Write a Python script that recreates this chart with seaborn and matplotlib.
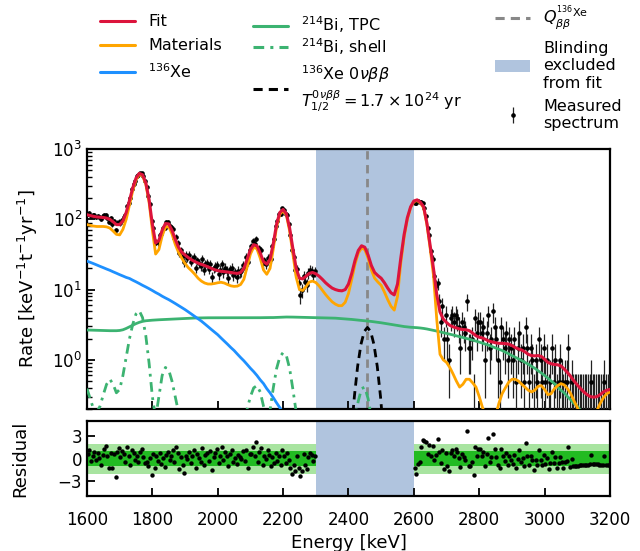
import numpy as np
import pandas as pd
import matplotlib
matplotlib.use("Agg")
import matplotlib.pyplot as plt
import seaborn as sns
from matplotlib.lines import Line2D
from matplotlib.patches import Patch

# ---------------- data ----------------
# model curves on a 10 keV grid, 1600 ... 3200 keV  [keV^-1 t^-1 yr^-1]
grid_energy = list(range(1600, 3201, 10))

fit_rate = [
    116, 113, 110, 108, 107, 106, 104, 100, 92, 84,
    84, 95, 125, 185, 280, 385, 450, 430, 330, 190,
    85, 46, 50, 70, 87, 86, 70, 52, 40, 34,
    31, 28.5, 26.5, 25, 23.8, 22.8, 22, 21, 20, 19.2,
    18.6, 18.2, 18, 17.8, 17.5, 17.2, 17, 17.5, 20, 27,
    37, 43.5, 42, 33, 25, 23, 27, 45, 85, 125,
    138, 120, 75, 38, 20, 14.5, 14.2, 15.5, 17, 17.5,
    16.8, 15.5, 14, 12.5, 11.4, 10.5, 10, 9.7, 9.6, 10,
    12, 17, 26, 36, 42, 40, 31, 22, 17.5, 15.8,
    14.5, 12.5, 10.5, 9, 8.4, 12, 28, 60, 105, 150,
    182, 189, 175, 150, 88, 42, 20, 8.5, 4.8, 3.8,
    3.4, 3.1, 2.95, 2.85, 2.75, 2.7, 2.68, 2.6, 2.4, 2.2,
    2.1, 2.05, 1.95, 1.85, 1.8, 1.75, 1.72, 1.72, 1.7, 1.68,
    1.6, 1.5, 1.43, 1.38, 1.3, 1.2, 1.15, 1.14, 1.15, 1.12,
    1.02, 0.92, 0.88, 0.86, 0.85, 0.82, 0.74, 0.66, 0.58, 0.5,
    0.44, 0.39, 0.35, 0.32, 0.3, 0.295, 0.3, 0.32, 0.35, 0.37,
    0.38,
]

materials_rate = [
    84, 82, 80, 79, 79, 79, 78, 75, 68, 61,
    60, 72, 100, 160, 255, 365, 435, 415, 315, 175,
    70, 32, 37, 58, 77, 79, 62, 44, 34, 28,
    23.5, 20.5, 18.5, 16.5, 14.5, 13.2, 12.4, 12, 12, 12.2,
    12.5, 12.7, 12.4, 11.8, 11.3, 11.1, 11.2, 11.8, 14, 21,
    32, 40, 38, 28, 19, 16.5, 20, 38, 78, 118,
    132, 115, 68, 32, 15, 10, 9.7, 11, 12.8, 13.2,
    12.6, 11.3, 9.8, 8.5, 7.5, 6.7, 6.2, 5.9, 5.9, 6.6,
    8.8, 14, 23, 33, 39, 37, 28, 19, 14.5, 12.8,
    11.5, 9.2, 7.2, 5.8, 5.1, 8, 24, 55, 100, 146,
    178, 185, 170, 145, 84, 38, 16, 3.8, 1.2, 1.0,
    0.92, 0.78, 0.63, 0.5, 0.41, 0.45, 0.53, 0.53, 0.47, 0.41,
    0.3, 0.21, 0.16, 0.12, 0.12, 0.16, 0.24, 0.33, 0.4, 0.48,
    0.53, 0.53, 0.5, 0.45, 0.41, 0.37, 0.35, 0.37, 0.42, 0.43,
    0.38, 0.32, 0.33, 0.39, 0.43, 0.46, 0.44, 0.39, 0.33, 0.26,
    0.21, 0.17, 0.14, 0.13, 0.14, 0.16, 0.19, 0.24, 0.29, 0.33,
    0.35,
]

bi_tpc_rate = [
    2.66, 2.65, 2.64, 2.63, 2.62, 2.61, 2.6, 2.6, 2.6, 2.6,
    2.62, 2.68, 2.8, 2.95, 3.1, 3.28, 3.42, 3.53, 3.6, 3.64,
    3.67, 3.7, 3.72, 3.74, 3.76, 3.78, 3.8, 3.82, 3.84, 3.86,
    3.88, 3.9, 3.92, 3.94, 3.95, 3.96, 3.97, 3.97, 3.97, 3.97,
    3.97, 3.97, 3.97, 3.97, 3.97, 3.97, 3.97, 3.97, 3.97, 3.98,
    3.98, 3.98, 3.98, 3.98, 3.99, 3.99, 4.0, 4.0, 4.02, 4.04,
    4.06, 4.07, 4.07, 4.06, 4.05, 4.04, 4.03, 4.02, 4.01, 4.0,
    4.0, 3.99, 3.98, 3.97, 3.96, 3.94, 3.92, 3.89, 3.86, 3.83,
    3.8, 3.76, 3.72, 3.68, 3.64, 3.61, 3.57, 3.52, 3.47, 3.42,
    3.37, 3.31, 3.26, 3.2, 3.14, 3.08, 3.03, 2.98, 2.94, 2.91,
    2.89, 2.87, 2.84, 2.8, 2.75, 2.69, 2.63, 2.57, 2.5, 2.44,
    2.38, 2.32, 2.26, 2.2, 2.14, 2.08, 2.02, 1.97, 1.91, 1.85,
    1.79, 1.73, 1.67, 1.61, 1.54, 1.48, 1.42, 1.36, 1.29, 1.22,
    1.15, 1.09, 1.03, 0.98, 0.92, 0.87, 0.81, 0.76, 0.7, 0.65,
    0.6, 0.55, 0.5, 0.46, 0.41, 0.37, 0.34, 0.3, 0.27, 0.24,
    0.22, 0.19, 0.17, 0.15, 0.13, 0.115, 0.1, 0.09, 0.08, 0.07,
    0.06,
]

bi_shell_rate = [
    0.39, 0.28, 0.2, 0.18, 0.22, 0.32, 0.45, 0.53, 0.45, 0.34,
    0.38, 0.6, 1.1, 2.0, 3.2, 4.5, 5.0, 4.0, 2.2, 0.9,
    0.3, 0.15, 0.3, 0.6, 0.78, 0.72, 0.5, 0.3, 0.18, 0.1,
    0.07, 0.05, 0.05, 0.05, 0.05, 0.05, 0.05, 0.05, 0.05, 0.05,
    0.05, 0.05, 0.05, 0.05, 0.05, 0.05, 0.05, 0.06, 0.1, 0.2,
    0.3, 0.4, 0.43, 0.35, 0.22, 0.15, 0.19, 0.4, 0.75, 1.1,
    1.27, 1.15, 0.75, 0.38, 0.18, 0.1, 0.06, 0.05, 0.05, 0.05,
    0.05, 0.05, 0.05, 0.05, 0.05, 0.05, 0.05, 0.05, 0.05, 0.05,
    0.05, 0.08, 0.15, 0.26, 0.39, 0.41, 0.28, 0.15, 0.08, 0.05,
    0.05, 0.05, 0.05, 0.05, 0.05, 0.05, 0.05, 0.05, 0.05, 0.05,
    0.05, 0.05, 0.05, 0.05, 0.05, 0.05, 0.05, 0.05, 0.05, 0.05,
    0.05, 0.05, 0.05, 0.05, 0.05, 0.05, 0.05, 0.05, 0.05, 0.05,
    0.05, 0.05, 0.05, 0.05, 0.05, 0.05, 0.05, 0.05, 0.05, 0.05,
    0.05, 0.05, 0.05, 0.05, 0.05, 0.05, 0.05, 0.05, 0.05, 0.05,
    0.05, 0.05, 0.05, 0.05, 0.05, 0.05, 0.05, 0.05, 0.05, 0.05,
    0.05, 0.05, 0.05, 0.05, 0.05, 0.05, 0.05, 0.05, 0.05, 0.05,
    0.05,
]

# 136Xe 2vbb, 1600 ... 2250 keV (falls below the axis afterwards)
xe136_energy = list(range(1600, 2251, 10))
xe136_rate = [
    25.4, 24.4, 23.4, 22.4, 21.4, 20.5, 19.6, 18.8, 17.9, 17.1,
    16.3, 15.6, 14.9, 14.4, 13.6, 12.9, 12.2, 11.5, 10.9, 10.3,
    9.7, 9.1, 8.6, 8.05, 7.6, 7.2, 6.76, 6.34, 5.93, 5.55,
    5.19, 4.82, 4.47, 4.14, 3.84, 3.56, 3.26, 2.98, 2.72, 2.49,
    2.28, 2.05, 1.85, 1.67, 1.5, 1.36, 1.21, 1.08, 0.97, 0.86,
    0.76, 0.68, 0.6, 0.52, 0.46, 0.39, 0.34, 0.29, 0.245, 0.209,
    0.176, 0.146, 0.12, 0.098, 0.079, 0.063,
]

# 136Xe 0vbb signal at T1/2 = 1.7e24 yr
onbb_energy = list(range(2398, 2519, 10))
onbb_rate = [0.018, 0.084, 0.30, 0.81, 1.65, 2.52, 2.9, 2.52, 1.65, 0.81, 0.30, 0.084, 0.018]

q_value = 2458          # keV
blind_low, blind_high = 2300, 2600
rate_per_count = 0.49   # keV^-1 t^-1 yr^-1 per count in a 5 keV bin

# measured spectrum, 5 keV bins
low_centers = list(np.arange(1602.5, 2300, 5))
low_counts = [
    244, 249, 225, 232, 236, 218, 230, 220, 206, 224,
    234, 238, 214, 189, 211, 174, 192, 142, 183, 189,
    178, 202, 217, 233, 311, 353, 407, 549, 642, 723,
    829, 870, 935, 926, 832, 708, 592, 438, 335, 191,
    154, 94, 98, 96, 120, 125, 153, 155, 184, 188,
    166, 158, 149, 109, 116, 95, 67, 74, 61, 50,
    64, 58, 64, 51, 56, 60, 41, 53, 49, 44,
    56, 39, 47, 48, 40, 47, 31, 41, 43, 46,
    34, 39, 47, 36, 42, 38, 30, 40, 42, 33,
    36, 31, 38, 36, 37, 45, 42, 59, 51, 75,
    84, 99, 91, 106, 76, 80, 74, 49, 53, 47,
    57, 57, 56, 85, 106, 163, 190, 241, 246, 293,
    278, 245, 232, 174, 120, 75, 60, 39, 40, 25,
    17, 20, 32, 26, 24, 35, 39, 38, 33, 37,
]
high_centers = list(np.arange(2602.5, 3200, 5))
high_counts = [
    350, 343, 370, 355, 365, 346, 294, 229, 154, 120,
    72, 56, 32, 23, 25, 14, 7, 12, 4, 9,
    4, 2, 8, 9, 7, 9, 8, 6, 3, 7,
    6, 5, 14, 3, 3, 4, 0, 8, 5, 7,
    7, 5, 6, 2, 5, 9, 3, 4, 10, 6,
    4, 2, 1, 6, 4, 3, 5, 2, 4, 3,
    2, 4, 1, 3, 5, 2, 3, 1, 6, 3,
    1, 3, 2, 0, 2, 1, 4, 2, 1, 3,
    1, 2, 0, 1, 3, 1, 2, 0, 1, 2,
    1, 0, 1, 1, 3, 0, 1, 0, 0, 0,
    0, 0, 0, 0, 0, 0, 0, 0, 1, 0,
    0, 0, 0, 0, 0, 0, 1, 0, 0, 0,
]

low_residual = [
    0.6, 1.1, -0.3, 0.4, 0.9, -0.2, 0.7, 0.1, -0.8, 0.5,
    1.3, 1.7, 0.3, -1.2, 0.8, -1.3, 0.6, -2.5, 0.9, 1.4,
    0.2, 1.0, 0.6, -0.4, 1.5, 0.3, -0.9, 1.2, 0.7, -0.2,
    0.4, -0.5, 0.9, 1.3, 0.2, -0.6, -0.4, -1.0, 0.1, -2.2,
    0.6, -1.2, 0.3, -0.3, 0.8, -0.7, 0.1, -1.1, 0.5, 0.9,
    -0.2, 0.4, 1.2, -0.5, 1.6, 0.7, -1.4, 0.2, -0.8, -1.9,
    0.3, -0.1, 0.9, -0.6, 0.4, 1.1, -1.3, 0.6, 0.1, -0.4,
    1.4, -0.9, 0.5, 0.8, -0.3, 1.0, -1.5, 0.2, 0.7, 1.3,
    -0.6, 0.4, 1.6, -0.2, 0.9, 0.3, -1.0, 0.6, 1.2, -0.4,
    0.1, -0.7, 0.5, 0.2, 0.0, 1.0, -0.3, 1.1, -1.2, 0.6,
    0.6, 1.5, 0.3, 2.2, -0.5, 0.9, 1.4, -0.8, 0.4, -0.1,
    1.2, 0.5, -1.0, 0.2, -0.6, 0.8, -0.3, 0.4, -0.9, 1.1,
    0.3, -0.6, 0.7, -0.2, -1.3, -2.1, -0.8, -1.6, 0.4, -1.2,
    -2.3, -1.7, 0.6, -0.9, -1.4, 0.2, 0.7, 0.5, -0.3, 0.4,
]
high_residual = [
    -1.3, -2.1, -0.7, -0.4, 1.5, 2.5, 2.3, 2.2, 0.6, 1.8,
    0.4, 1.7, -0.2, 0.5, 2.6, 0.9, -0.6, 1.2, -1.4, 0.8,
    -1.0, -1.7, 0.7, 1.2, 0.4, 1.3, 0.9, 0.1, -1.1, 0.6,
    0.2, -0.2, 3.7, -1.0, -1.0, -0.4, -2.2, 1.6, 0.3, 1.3,
    1.3, 0.4, 0.9, -1.0, 0.6, 2.7, -0.4, 0.2, 3.3, 1.3,
    0.2, -0.8, -1.3, 1.3, 0.3, -0.3, 0.8, -0.8, 0.3, -0.2,
    -0.7, 0.5, -1.2, 0.0, 1.2, -0.5, 0.1, -1.0, 2.1, 0.3,
    -0.9, 0.4, -0.2, -1.5, -0.2, -0.9, 1.1, -0.2, -0.8, 0.5,
    -0.7, 0.1, -1.4, -0.6, 0.9, -0.6, 0.2, -1.3, -0.6, 0.2,
    -0.5, -1.2, -0.4, -0.3, 1.5, -1.1, -0.1, -1.03, -0.99, -0.96,
    -0.94, -0.91, -0.88, -0.86, -0.84, -0.82, -0.8, -0.79, 0.5, -0.77,
    -0.77, -0.78, -0.79, -0.8, -0.81, -0.83, 0.3, -0.86, -0.87, -0.88,
]

x_ticks = list(range(1600, 3201, 200))
res_ticks = [-3, 0, 3]

# ---------------- styling ----------------
sns.set_theme(style="ticks")
plt.rcParams["font.family"] = ["DejaVu Sans"]
plt.rcParams["mathtext.fontset"] = "dejavusans"
for key in ("text.color", "axes.labelcolor", "xtick.color", "ytick.color", "axes.edgecolor"):
    plt.rcParams[key] = "black"

c_fit = "#dc143c"
c_mat = "#ffa500"
c_xe = "#1e90ff"
c_bi = "#3cb371"
c_blind = "#b0c4de"
c_band1 = "#22bb22"
c_band2 = "#a8e4a0"

curves = pd.DataFrame({
    "energy": grid_energy,
    "fit": fit_rate,
    "materials": materials_rate,
    "bi_tpc": bi_tpc_rate,
    "bi_shell": bi_shell_rate,
})
xe_df = pd.DataFrame({"energy": xe136_energy, "rate": xe136_rate})
onbb_df = pd.DataFrame({"energy": onbb_energy, "rate": onbb_rate})

centers = np.array(low_centers + high_centers)
counts = np.array(low_counts + high_counts, dtype=float)
meas_rate = counts * rate_per_count
err_lo = np.sqrt(counts) * rate_per_count
err_hi = np.where(counts > 0, np.sqrt(counts), 1.29) * rate_per_count
res_df = pd.DataFrame({"energy": centers, "residual": low_residual + high_residual})

fig = plt.figure(figsize=(6.4, 5.51), dpi=100)
ax = fig.add_axes([0.1359, 0.2577, 0.8172, 0.4719])
axr = fig.add_axes([0.1359, 0.0998, 0.8172, 0.1361])

# ---- main panel ----
ax.axvspan(blind_low, blind_high, color=c_blind, lw=0, zorder=0)
ax.axvline(q_value, color="#888888", lw=2, ls=(0, (3, 2)), zorder=2)

eb = ax.errorbar(centers, meas_rate, yerr=[err_lo, err_hi], fmt="o", color="black",
                 ms=2.3, ecolor="#222222", elinewidth=0.9, capsize=0, zorder=3)

sns.lineplot(data=curves, x="energy", y="bi_tpc", ax=ax, color=c_bi, lw=2, zorder=4)
sns.lineplot(data=curves, x="energy", y="bi_shell", ax=ax, color=c_bi, lw=2,
             ls=(0, (3.5, 2, 1, 2)), zorder=4)
sns.lineplot(data=xe_df, x="energy", y="rate", ax=ax, color=c_xe, lw=2, zorder=4)
sns.lineplot(data=onbb_df, x="energy", y="rate", ax=ax, color="black", lw=2,
             ls=(0, (3, 2)), zorder=5)
sns.lineplot(data=curves, x="energy", y="materials", ax=ax, color=c_mat, lw=2, zorder=6)
sns.lineplot(data=curves, x="energy", y="fit", ax=ax, color=c_fit, lw=2.2, zorder=7)

ax.set_yscale("log")
ax.set_xlim(1600, 3200)
ax.set_ylim(0.2, 1000)
ax.set_xticks(x_ticks)
ax.tick_params(axis="x", labelbottom=False)
ax.set_xlabel("")
ax.set_ylabel(r"Rate [keV$^{-1}$t$^{-1}$yr$^{-1}$]", fontsize=13)
ax.yaxis.set_label_coords(-0.089, 0.5)

# ---- residual panel ----
axr.axvspan(blind_low, blind_high, color=c_blind, lw=0, zorder=0)
for lo, hi in [(1600, blind_low), (blind_high, 3200)]:
    axr.fill_between([lo, hi], -2, 2, color=c_band2, lw=0, zorder=1)
    axr.fill_between([lo, hi], -1, 1, color=c_band1, lw=0, zorder=1)
sns.scatterplot(data=res_df, x="energy", y="residual", ax=axr, color="black",
                s=10, linewidth=0, zorder=3)
axr.set_xlim(1600, 3200)
axr.set_ylim(-5, 5)
axr.set_xticks(x_ticks)
axr.set_yticks(res_ticks)
axr.set_xlabel("Energy [keV]", fontsize=13)
axr.set_ylabel("Residual", fontsize=13)
axr.yaxis.set_label_coords(-0.11, 0.5)

for a in (ax, axr):
    for s in a.spines.values():
        s.set_linewidth(1.6)
        s.set_color("black")
        s.set_visible(True)
    a.tick_params(which="major", direction="in", length=6, width=1.3,
                  labelsize=12, top=False, right=False, colors="black")
    a.tick_params(which="minor", direction="in", length=3.5, width=1.0,
                  top=False, right=False, colors="black")
axr.tick_params(axis="x", which="minor", bottom=False)
axr.tick_params(axis="x", which="major", pad=10.5)
ax.tick_params(axis="x", which="minor", bottom=False)

# ---- legend: three columns (column 2 split in two blocks) ----
leg_kw = dict(loc="upper left", frameon=False, fontsize=11.5, handlelength=2.2,
              handletextpad=0.8, borderpad=0.0, borderaxespad=0.0,
              labelcolor="black")


def fig_y(px):
    return 1 - px / 551


fig.legend(
    [Line2D([], [], color=c_fit, lw=2.2), Line2D([], [], color=c_mat, lw=2.2),
     Line2D([], [], color=c_xe, lw=2.2)],
    ["Fit", "Materials", r"$^{136}$Xe"],
    bbox_to_anchor=(100 / 640, fig_y(14.5)), labelspacing=0.55, **leg_kw)
fig.legend(
    [Line2D([], [], color=c_bi, lw=2.2),
     Line2D([], [], color=c_bi, lw=2.2, ls=(0, (3.5, 2, 1, 2)))],
    [r"$^{214}$Bi, TPC", r"$^{214}$Bi, shell"],
    bbox_to_anchor=(253 / 640, fig_y(14.5)), labelspacing=0.05, **leg_kw)
fig.legend(
    [Line2D([], [], color="black", lw=2.2, ls=(0, (3, 2)))],
    ["$^{136}$Xe 0$\\nu\\beta\\beta$\n$T_{1/2}^{0\\nu\\beta\\beta} = 1.7 \\times 10^{24}$ yr"],
    bbox_to_anchor=(253 / 640, fig_y(63)), **leg_kw)
fig.legend(
    [Line2D([], [], color="#888888", lw=2.2, ls=(0, (3, 2))),
     Patch(facecolor=c_blind, edgecolor="none"), eb],
    [r"$Q_{\beta\beta}^{^{136}\mathrm{Xe}}$", "Blinding\nexcluded\nfrom fit",
     "Measured\nspectrum"],
    bbox_to_anchor=(495 / 640, fig_y(3.5)), labelspacing=0.5, **leg_kw)

fig.savefig("out.png", dpi=100)
